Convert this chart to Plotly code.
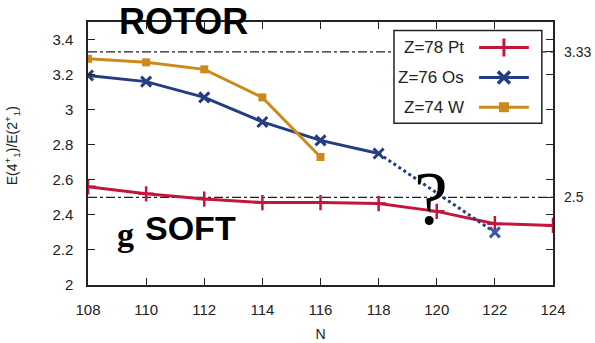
import plotly.graph_objects as go

# Neutron numbers and E(4+1)/E(2+1) ratios
N_PT = [108, 110, 112, 114, 116, 118, 120, 122, 124]
R_PT = [2.56, 2.52, 2.49, 2.47, 2.47, 2.465, 2.42, 2.35, 2.34]

N_OS = [108, 110, 112, 114, 116, 118]
R_OS = [3.195, 3.16, 3.07, 2.93, 2.825, 2.75]
N_OS_EXT = [118, 122]
R_OS_EXT = [2.75, 2.30]

N_W = [108, 110, 112, 114, 116]
R_W = [3.29, 3.27, 3.23, 3.07, 2.73]

# Limits: rigid rotor and gamma-soft
REF_LEVELS = [3.33, 2.5]
REF_LABELS = ["3.33", "2.5"]

X_TICKS = [108, 110, 112, 114, 116, 118, 120, 122, 124]
Y_TICKS = [2, 2.2, 2.4, 2.6, 2.8, 3, 3.2, 3.4]
Y_TICKTEXT = ["2", "2.2", "2.4", "2.6", "2.8", "3", "3.2", "3.4"]

SERIES = [
    ("Z=78 Pt", "#c4163c", "cross-thin", 11, 2.5),
    ("Z=76 Os", "#243c84", "x-thin", 10, 3),
    ("Z=74 W", "#cc8a1c", "square", 8, 0),
]

RED, BLUE, ORANGE = SERIES[0][1], SERIES[1][1], SERIES[2][1]
FONT = "Liberation Sans, Arial, sans-serif"

fig = go.Figure()

fig.add_trace(go.Scatter(
    x=N_PT, y=R_PT, mode="lines+markers",
    line=dict(color=RED, width=3),
    marker=dict(symbol="cross-thin", size=11, line=dict(color=RED, width=2.5)),
    showlegend=False,
))
fig.add_trace(go.Scatter(
    x=N_OS_EXT, y=R_OS_EXT, mode="lines",
    line=dict(color=BLUE, width=3, dash="dot"),
    showlegend=False,
))
fig.add_trace(go.Scatter(
    x=N_OS_EXT[1:], y=R_OS_EXT[1:], mode="markers",
    marker=dict(symbol="x-thin", size=10, line=dict(color="#3a5aa8", width=3)),
    showlegend=False,
))
fig.add_trace(go.Scatter(
    x=N_OS, y=R_OS, mode="lines+markers",
    line=dict(color=BLUE, width=3),
    marker=dict(symbol="x-thin", size=10, line=dict(color=BLUE, width=3)),
    showlegend=False,
))
fig.add_trace(go.Scatter(
    x=N_W, y=R_W, mode="lines+markers",
    line=dict(color=ORANGE, width=3),
    marker=dict(symbol="square", size=8, color=ORANGE),
    showlegend=False,
))

# Key: drawn on an overlay axis spanning the plot area in 0..1 units
KEY_X0, KEY_X1 = 0.841, 0.948
KEY_ROWS = [0.903, 0.789, 0.676]
shapes = []
for lvl in REF_LEVELS:
    shapes.append(dict(type="line", xref="paper", x0=0, x1=1, yref="y", y0=lvl, y1=lvl,
                       line=dict(color="#222", width=1.2, dash="dashdot"), layer="below"))
# key frame
shapes.append(dict(type="rect", xref="x2", yref="y3", x0=0.658, x1=0.976, y0=0.615, y1=0.968,
                   fillcolor="white", line=dict(color="#222", width=1.5), layer="below"))

annotations = []
for (name, color, sym, size, lw), ky in zip(SERIES, KEY_ROWS):
    fig.add_trace(go.Scatter(
        x=[KEY_X0, KEY_X1], y=[ky, ky], xaxis="x2", yaxis="y3", mode="lines",
        line=dict(color=color, width=3), showlegend=False, hoverinfo="skip",
    ))
    mk = dict(symbol=sym, size=size + 2, color=color)
    if lw:
        mk["line"] = dict(color=color, width=lw + 0.5)
    fig.add_trace(go.Scatter(
        x=[(KEY_X0 + KEY_X1) / 2], y=[ky], xaxis="x2", yaxis="y3", mode="markers",
        marker=mk, showlegend=False, hoverinfo="skip",
    ))
    annotations.append(dict(x=0.812, y=ky, xref="x2", yref="y3", text=name, showarrow=False,
                            xanchor="right", yanchor="middle",
                            font=dict(family=FONT, size=17, color="#222")))

# Region labels and axis title (positions in pixels, converted below)
annotations += [
    dict(x=183, y=21, xref="paper", yref="paper", text="<b>ROTOR</b>", showarrow=False,
         font=dict(family="Liberation Sans, Arial", size=36, color="black")),
    dict(x=125, y=234, xref="paper", yref="paper", text="<b>g</b>", showarrow=False,
         font=dict(family="Liberation Serif, Times New Roman", size=34, color="black")),
    dict(x=190, y=228, xref="paper", yref="paper", text="<b>SOFT</b>", showarrow=False,
         font=dict(family="Liberation Sans, Arial", size=34, color="black")),
    dict(x=431, y=198, xref="paper", yref="paper", text="?", showarrow=False,
         font=dict(family="Liberation Serif, Times New Roman", size=76, color="black")),
    dict(x=12, y=146, xref="paper", yref="paper", textangle=-90,
         text="E(4<sup>+</sup><sub>1</sub>)/E(2<sup>+</sup><sub>1</sub>)", showarrow=False,
         font=dict(family=FONT, size=14, color="#222")),
]

W, H = 595, 343
ML, MR, MT, MB = 88, 42, 21.5, 58
for a in annotations:
    if a["xref"] == "paper":
        a["x"] = (a["x"] - ML) / (W - ML - MR)
        a["y"] = (H - MB - a["y"]) / (H - MT - MB)
        a["xanchor"] = "center"
        a["yanchor"] = "middle"

fig.update_layout(
    width=W, height=H,
    margin=dict(l=ML, r=MR, t=MT, b=MB, pad=0),
    plot_bgcolor="white", paper_bgcolor="white",
    font=dict(family=FONT, size=15, color="#222"),
    shapes=shapes, annotations=annotations,
    xaxis=dict(range=[108, 124], tickvals=X_TICKS, ticks="inside", ticklen=7,
               tickcolor="#222", tickwidth=1.2, showline=True, linecolor="#222",
               linewidth=1.5, mirror="ticks", showgrid=False, zeroline=False,
               tickfont=dict(size=15), ticklabelstandoff=10, automargin=False,
               title=dict(text="N", font=dict(size=14), standoff=12)),
    yaxis=dict(range=[2, 3.5], tickvals=Y_TICKS, ticktext=Y_TICKTEXT, ticks="inside",
               ticklen=7, tickcolor="#222", tickwidth=1.2, showline=True,
               linecolor="#222", linewidth=1.5, mirror="ticks", showgrid=False,
               zeroline=False, tickfont=dict(size=15), ticklabelstandoff=10,
               automargin=False),
    yaxis2=dict(range=[2, 3.5], overlaying="y", side="right", tickvals=REF_LEVELS,
                ticktext=REF_LABELS, ticks="inside", ticklen=7, tickcolor="#222",
                tickwidth=1.2, showgrid=False, zeroline=False, showline=False,
                tickfont=dict(size=14), ticklabelstandoff=10, automargin=False),
    xaxis2=dict(range=[0, 1], overlaying="x", visible=False),
    yaxis3=dict(range=[0, 1], overlaying="y", visible=False),
)

# anchor right-side labels on yaxis2 with an invisible trace
fig.add_trace(go.Scatter(x=[108], y=[None], yaxis="y2", showlegend=False, hoverinfo="skip"))

fig.write_html("out.html")
